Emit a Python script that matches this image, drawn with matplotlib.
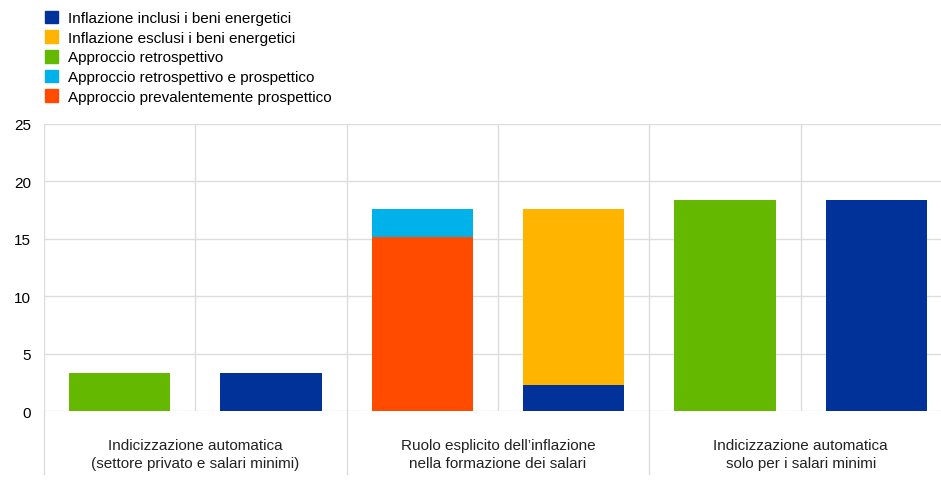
import matplotlib.pyplot as plt
import numpy as np
from matplotlib.patches import Patch
from matplotlib.lines import Line2D
from matplotlib.transforms import blended_transform_factory

plt.rcParams['font.family'] = ['Liberation Sans', 'DejaVu Sans']

# data
groups = ['Indicizzazione automatica\n(settore privato e salari minimi)',
          'Ruolo esplicito dell\u2019inflazione\nnella formazione dei salari',
          'Indicizzazione automatica\nsolo per i salari minimi']
series_names = ['Inflazione inclusi i beni energetici',
                'Inflazione esclusi i beni energetici',
                'Approccio retrospettivo',
                'Approccio retrospettivo e prospettico',
                'Approccio prevalentemente prospettico']
colors = ['#003299', '#FFB400', '#65B800', '#00B1EA', '#FF4B00']

# one value per bar (6 bars), per series
incl_energy = [0, 3.3, 0, 2.3, 0, 18.4]
excl_energy = [0, 0, 0, 15.3, 0, 0]
retro = [3.3, 0, 0, 0, 18.4, 0]
retro_prosp = [0, 0, 2.4, 0, 0, 0]
prosp = [0, 0, 15.2, 0, 0, 0]

# stacking order bottom -> top
stack = [(incl_energy, 0), (prosp, 4), (retro, 2), (excl_energy, 1), (retro_prosp, 3)]

fig = plt.figure(figsize=(9.41, 4.81), dpi=100)
W, H = 941, 481
x0, x1 = 44, 952
y0, y1 = 412, 125
ax = fig.add_axes([x0 / W, 1 - y0 / H, (x1 - x0) / W, (y0 - y1) / H])

x = np.arange(6)
bottom = np.zeros(6)
for vals, ci in stack:
    v = np.array(vals, dtype=float)
    ax.bar(x, v, width=0.67, bottom=bottom, color=colors[ci], zorder=3)
    bottom += v

ax.set_xlim(-0.5, 5.5)
ax.set_ylim(0, 25)
ax.set_yticks(range(0, 26, 5))
ax.set_xticks(np.arange(0.5, 5, 1), minor=False)
ax.set_xticklabels([])
ax.grid(True, color='#dddddd', linewidth=1, zorder=0)
ax.tick_params(length=0, labelsize=11, pad=9.5)
for s in ax.spines.values():
    s.set_visible(False)
ax.axvline(-0.5, color='#dddddd', linewidth=1, zorder=0)

# group separators and labels below the axis
tr = blended_transform_factory(ax.transData, ax.transAxes)
below = -(475 - y0) / (y0 - y1)
for xs in [-0.5, 1.5, 3.5]:
    ax.add_line(Line2D([xs, xs], [0, below], transform=tr, color='#dddddd',
                       linewidth=1, clip_on=False))
for i, g in enumerate(groups):
    ax.text(2 * i + 0.5, -(439 - y0) / (y0 - y1), g, transform=tr,
            ha='center', va='top', fontsize=11, linespacing=1.4, color='#222222')

handles = [Patch(color=c) for c in colors]
fig.legend(handles, series_names, loc='upper left', bbox_to_anchor=(40 / W, 1 - 7 / H),
           frameon=False, fontsize=11, handlelength=0.9, handleheight=0.9,
           handletextpad=0.6, labelspacing=0.33, borderaxespad=0, borderpad=0.3)

fig.savefig('out.png', dpi=100)
